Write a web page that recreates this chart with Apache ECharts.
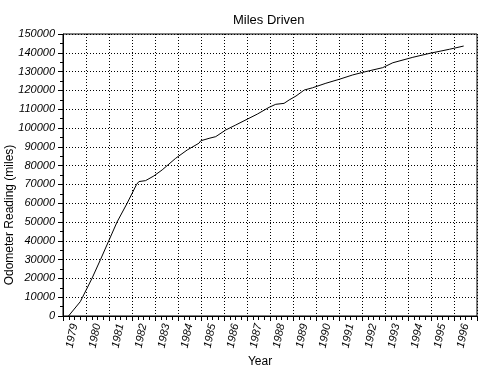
<!DOCTYPE html>
<html>
<head>
<meta charset="utf-8">
<script src="https://cdn.jsdelivr.net/npm/echarts@6/dist/echarts.min.js"></script>
<style>
html,body{margin:0;padding:0;background:#fff;}
#chart{width:485px;height:374px;}
</style>
</head>
<body>
<div id="chart"></div>
<script>
// Tick labels on the x axis (one per year band)
var yearLabels = ['1979','1980','1981','1982','1983','1984','1985','1986','1987','1988','1989','1990','1991','1992','1993','1994','1995','1996'];
// Reading dates (decimal years) and odometer readings (miles)
var readingTimes = [1979.24, 1979.75, 1979.85, 1980.26, 1980.63, 1980.99, 1981.35, 1981.79, 1982.20, 1982.30, 1982.59,
  1982.95, 1983.31, 1983.90, 1984.40, 1984.91, 1984.99, 1985.35, 1985.64, 1986.07, 1986.51, 1987.45,
  1987.96, 1988.25, 1988.61, 1988.83, 1989.13, 1989.49, 1989.85, 1990.43, 1991.01, 1991.59, 1992.03,
  1992.90, 1993.34, 1994.21, 1994.94, 1995.81, 1996.42];
var odometerMiles = [0, 7600, 10000, 20000, 30000, 40000, 50000, 60000, 70000, 71500, 72000,
  74500, 77700, 83900, 88300, 91900, 93200, 94500, 95400, 98900, 101600, 107400,
  111000, 112600, 113100, 114900, 117000, 120200, 121400, 123800, 125900, 128200, 129600,
  132100, 134700, 137600, 139700, 141900, 143600];

var lineData = readingTimes.map(function(t, i){ return [t, odometerMiles[i]]; });
var fontFam = '"Liberation Sans", Arial, sans-serif';

var chart = echarts.init(document.getElementById('chart'), null, {renderer:'canvas'});
chart.setOption({
  backgroundColor: '#fff',
  animation: false,
  title: {
    text: 'Miles Driven',
    left: 228, top: 9,
    textStyle: {fontFamily: fontFam, fontSize: 13, fontWeight: 'normal', color: '#000'}
  },
  grid: {left: 63, right: 8, top: 34, bottom: 58, containLabel: false, outerBoundsMode: 'none',
    show: true, borderColor: '#000', borderWidth: 1, backgroundColor: 'transparent'},
  xAxis: [{
    type: 'value', min: 1979, max: 1997, interval: 1,
    name: 'Year', nameLocation: 'middle', nameGap: 40,
    nameTextStyle: {fontFamily: fontFam, fontSize: 12, color: '#000', padding: [0, 20, 0, 0]},
    axisLine: {show: true, lineStyle: {color: '#000', width: 1}},
    axisTick: {show: true, inside: false, length: 5, lineStyle: {color: '#000'}},
    minorTick: {show: true, splitNumber: 4, length: 4, lineStyle: {color: '#000'}},
    axisLabel: {show: false},
    splitLine: {show: true, lineStyle: {color: '#000', type: [1, 2], width: 1}}
  }, {
    type: 'category', data: yearLabels, position: 'bottom', boundaryGap: true,
    axisLine: {show: false}, axisTick: {show: false}, splitLine: {show: false},
    axisLabel: {rotate: 78, margin: 8, interval: 0, fontFamily: fontFam, fontStyle: 'italic', fontSize: 11, color: '#000'}
  }],
  yAxis: {
    type: 'value', min: 0, max: 150000, interval: 10000,
    name: 'Odometer Reading (miles)', nameLocation: 'middle', nameGap: 47, nameMoveOverlap: false,
    nameTextStyle: {fontFamily: fontFam, fontSize: 12, color: '#000', padding: [0, 80, 0, 0]},
    axisLine: {show: true, lineStyle: {color: '#000', width: 1}},
    axisTick: {show: true, length: 5, lineStyle: {color: '#000'}},
    minorTick: {show: true, splitNumber: 2, length: 3, lineStyle: {color: '#000'}},
    axisLabel: {margin: 8, fontFamily: fontFam, fontStyle: 'italic', fontSize: 11, color: '#000',
      formatter: function(v){ return String(v); }},
    splitLine: {show: true, lineStyle: {color: '#000', type: [1, 2], width: 1}}
  },
  series: [{
    type: 'line', xAxisIndex: 0, data: lineData,
    showSymbol: false, symbol: 'none', smooth: false,
    lineStyle: {color: '#000', width: 1}
  }]
});
</script>
</body>
</html>
